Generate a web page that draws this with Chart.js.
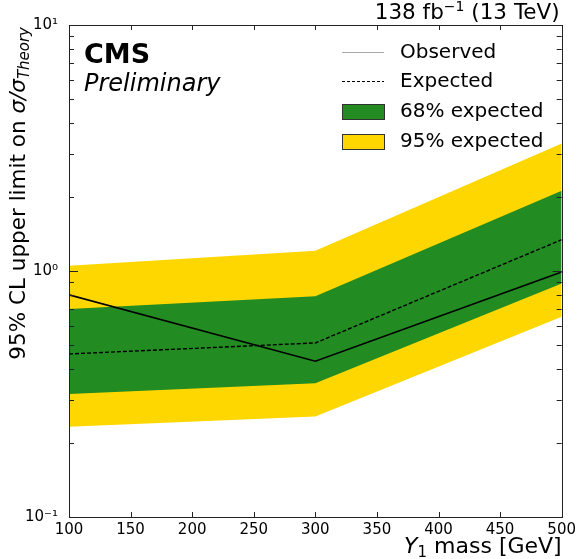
<!DOCTYPE html>
<html>
<head>
<meta charset="utf-8">
<script src="https://cdn.jsdelivr.net/npm/chart.js@4/dist/chart.umd.min.js"></script>
<style>
  html, body { margin: 0; padding: 0; background: #fff; }
  #wrap { width: 580px; height: 559px; }
</style>
</head>
<body>
<div id="wrap"><canvas id="limitChart"></canvas></div>
<script>
// values
const masses = [100, 300, 500];
const observed = [0.80, 0.43, 0.99];
const expected = [0.46, 0.51, 1.34];
const band68Up = [0.70, 0.79, 2.12];
const band68Dn = [0.316, 0.35, 0.89];
const band95Up = [1.05, 1.21, 3.30];
const band95Dn = [0.233, 0.256, 0.652];
const xTicks = [100, 150, 200, 250, 300, 350, 400, 450, 500];
const yTicks = [0.1, 1, 10];
const yTickLabels = ['10\u207B\u00B9', '10\u2070', '10\u00B9'];

const FONT = '"DejaVu Sans", sans-serif';
const GREEN = '#228B22';
const YELLOW = '#FFD700';

function pts(vals) {
  return masses.map((m, i) => ({ x: m, y: vals[i] }));
}

// inward ticks on all four sides plus the axes box
const frameTicks = {
  id: 'frameTicks',
  afterDatasetsDraw(chart) {
    const { ctx, chartArea: a, scales } = chart;
    const x = scales.x, y = scales.y;
    ctx.save();
    ctx.strokeStyle = '#222';
    ctx.lineWidth = 1;
    ctx.beginPath();
    xTicks.forEach(v => {
      const px = Math.round(x.getPixelForValue(v)) + 0.5;
      ctx.moveTo(px, a.bottom); ctx.lineTo(px, a.bottom - 5);
      ctx.moveTo(px, a.top); ctx.lineTo(px, a.top + 5);
    });
    for (let d = 0.1; d < 10; d *= 10) {
      for (let k = 1; k <= 9; k++) {
        const v = d * k;
        const py = Math.round(y.getPixelForValue(v)) + 0.5;
        const len = k === 1 ? 9 : 5;
        ctx.moveTo(a.left, py); ctx.lineTo(a.left + len, py);
        ctx.moveTo(a.right, py); ctx.lineTo(a.right - len, py);
      }
    }
    ctx.stroke();
    ctx.strokeRect(Math.round(a.left) + 0.5, Math.round(a.top) + 0.5,
      Math.round(a.right - a.left), Math.round(a.bottom - a.top));
    ctx.restore();
  }
};

// texts, legend and axis titles
const decorations = {
  id: 'decorations',
  afterDraw(chart) {
    const { ctx, chartArea: a } = chart;
    ctx.save();
    ctx.fillStyle = '#000';
    ctx.textBaseline = 'alphabetic';
    ctx.textAlign = 'left';

    // CMS Preliminary
    ctx.font = 'bold 27px ' + FONT;
    ctx.fillText('CMS', 84, 63);
    ctx.font = 'italic 24px ' + FONT;
    ctx.fillText('Preliminary', 84, 91);

    // luminosity label, right aligned
    const parts = [
      { t: '138 fb', f: '21.5px ' + FONT, dy: 0 },
      { t: '\u22121', f: '14px ' + FONT, dy: -8 },
      { t: ' (13 TeV)', f: '21.5px ' + FONT, dy: 0 }
    ];
    let w = 0;
    parts.forEach(p => { ctx.font = p.f; w += ctx.measureText(p.t).width; });
    let cx = a.right - 2 - w;
    parts.forEach(p => {
      ctx.font = p.f;
      ctx.fillText(p.t, cx, 19 + p.dy);
      cx += ctx.measureText(p.t).width;
    });

    // x title
    const xp = [
      { t: 'Y', f: 'italic 22px ' + FONT, dy: 0 },
      { t: '1', f: '15px ' + FONT, dy: 4 },
      { t: ' mass [GeV]', f: '22px ' + FONT, dy: 0 }
    ];
    w = 0;
    xp.forEach(p => { ctx.font = p.f; w += ctx.measureText(p.t).width; });
    cx = a.right - w;
    xp.forEach(p => {
      ctx.font = p.f;
      ctx.fillText(p.t, cx, 553 + p.dy);
      cx += ctx.measureText(p.t).width;
    });

    // y title, rotated, right aligned at the top
    const yp = [
      { t: '95% CL upper limit on ', f: '21.5px ' + FONT, dy: 0 },
      { t: '\u03C3/\u03C3', f: 'italic 21.5px ' + FONT, dy: 0 },
      { t: 'Theory', f: 'italic 15px ' + FONT, dy: 4 }
    ];
    ctx.translate(25, a.top + 2);
    ctx.rotate(-Math.PI / 2);
    w = 0;
    yp.forEach(p => { ctx.font = p.f; w += ctx.measureText(p.t).width; });
    cx = -w;
    yp.forEach(p => {
      ctx.font = p.f;
      ctx.fillText(p.t, cx, p.dy);
      cx += ctx.measureText(p.t).width;
    });
    ctx.setTransform(1, 0, 0, 1, 0, 0);
    ctx.scale(chart.currentDevicePixelRatio, chart.currentDevicePixelRatio);

    // legend
    const lx = 342, lw = 42, tx = 400;
    ctx.font = '20px ' + FONT;
    ctx.textBaseline = 'middle';
    ctx.strokeStyle = '#aaa';
    ctx.lineWidth = 1;
    ctx.beginPath(); ctx.moveTo(lx, 52.5); ctx.lineTo(lx + lw, 52.5); ctx.stroke();
    ctx.fillText('Observed', tx, 53);
    ctx.strokeStyle = '#000';
    ctx.setLineDash([3, 2]);
    ctx.beginPath(); ctx.moveTo(lx, 81.5); ctx.lineTo(lx + lw, 81.5); ctx.stroke();
    ctx.setLineDash([]);
    ctx.fillText('Expected', tx, 82);
    ctx.strokeStyle = '#333';
    ctx.fillStyle = GREEN;
    ctx.fillRect(lx, 104, lw, 15);
    ctx.strokeRect(lx + 0.5, 104.5, lw, 15);
    ctx.fillStyle = YELLOW;
    ctx.fillRect(lx, 134, lw, 15);
    ctx.strokeRect(lx + 0.5, 134.5, lw, 15);
    ctx.fillStyle = '#000';
    ctx.fillText('68% expected', tx, 112);
    ctx.fillText('95% expected', tx, 142);
    ctx.restore();
  }
};

const bandStyle = { borderWidth: 0, pointRadius: 0, tension: 0 };

new Chart(document.getElementById('limitChart'), {
  type: 'line',
  data: {
    datasets: [
      { label: 'Observed', data: pts(observed), borderColor: '#000', borderWidth: 1.6,
        pointRadius: 0, fill: false },
      { label: 'Expected', data: pts(expected), borderColor: '#000', borderWidth: 1.4,
        borderDash: [4, 2], pointRadius: 0, fill: false },
      Object.assign({ label: '68% expected', data: pts(band68Up), backgroundColor: GREEN,
        borderColor: GREEN, fill: '+1' }, bandStyle),
      Object.assign({ label: '68% low', data: pts(band68Dn), borderColor: GREEN, fill: false }, bandStyle),
      Object.assign({ label: '95% expected', data: pts(band95Up), backgroundColor: YELLOW,
        borderColor: YELLOW, fill: '+1' }, bandStyle),
      Object.assign({ label: '95% low', data: pts(band95Dn), borderColor: YELLOW, fill: false }, bandStyle)
    ]
  },
  options: {
    responsive: true,
    maintainAspectRatio: false,
    animation: false,
    layout: { padding: { top: 25, right: 15, left: 0, bottom: 0 } },
    plugins: { legend: { display: false }, tooltip: { enabled: false } },
    scales: {
      x: {
        type: 'linear', min: 100, max: 500,
        afterBuildTicks: s => { s.ticks = xTicks.map(v => ({ value: v })); },
        afterFit: s => { s.height = 42; },
        grid: { display: false, drawTicks: false },
        border: { display: false },
        ticks: { color: '#000', padding: 4, maxRotation: 0, font: { family: FONT, size: 15 } }
      },
      y: {
        type: 'logarithmic', min: 0.1, max: 10,
        afterBuildTicks: s => { s.ticks = yTicks.map(v => ({ value: v })); },
        afterFit: s => { s.width = 69; },
        grid: { display: false, drawTicks: false },
        border: { display: false },
        ticks: {
          color: '#000', padding: 11, font: { family: FONT, size: 15 },
          callback: v => yTickLabels[yTicks.indexOf(v)] || ''
        }
      }
    }
  },
  plugins: [frameTicks, decorations]
});
</script>
</body>
</html>
